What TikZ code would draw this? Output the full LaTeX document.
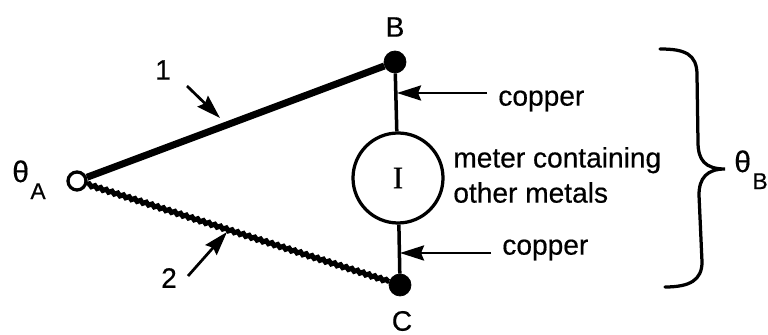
\documentclass[tikz,border=0pt]{standalone}
\usepackage{fontspec}
\setmainfont[FakeBold=0.5]{Liberation Sans}
\newfontfamily\meterfont[FakeBold=0.5]{Liberation Serif}
\usepackage{xcolor}
\usetikzlibrary{arrows.meta, positioning, calc, decorations.pathmorphing}
\newcommand{\subtheta}[1]{\fontsize{17}{20}\selectfont θ\hspace{0.05em}\raisebox{-9.7pt}{\fontsize{13}{15}\selectfont #1}}

\begin{document}
\begin{tikzpicture}[
    joint/.style={circle, draw, fill=black, minimum size=0.44cm, inner sep=0pt},
    openjoint/.style={circle, draw, line width=0.065cm, fill=white, minimum size=0.36cm, inner sep=0pt},
    meter/.style={circle, draw, line width=0.065cm, minimum size=1.8cm, inner sep=0pt,
                  font=\fontsize{18}{20}\selectfont\meterfont},
    lbl/.style={font=\fontsize{16}{20}\selectfont, inner sep=0pt, align=left},
    wire/.style={line width=0.07cm},
    pointer/.style={-{Stealth[length=0.48cm, width=0.3cm, inset=0.06cm]}, line width=0.055cm},
    brace/.style={line width=0.065cm, line cap=round},
]
\useasboundingbox (0,0) rectangle (15.36,6.7);

% Junctions and meter
\node[openjoint] (nA) at (1.54,3.08) {};
\node[joint] (nB) at (7.90,5.46) {};
\node[joint] (nC) at (8.00,1.00) {};
\node[meter] (mtr) at (7.96,3.14) {I};

\node[lbl] (lB) at (7.90,6.16) {B};
\node[lbl] (lC) at (8.04,0.28) {C};
\node[lbl, anchor=base west] (thA) at (0.24,3.06) {\subtheta{A}};
\node[lbl, anchor=base west] (thB) at (14.68,3.26) {\subtheta{B}};
\node[lbl] (n1) at (3.26,5.30) {1};
\node[lbl] (n2) at (3.38,1.14) {2};
\node[lbl, anchor=west] (cuT) at (9.96,4.68) {copper};
\node[lbl, anchor=west] (cuB) at (10.04,1.70) {copper};
\node[lbl, anchor=west, align=left] (mtrText) at (9.06,3.20) {meter containing\\other metals};

% Wires
\draw[line width=0.14cm] (nA) -- (nB);
\draw[line width=0.1cm, decorate, decoration={snake, amplitude=0.022cm, segment length=0.12cm}] (nA) -- (nC);
\draw[wire] (nB) -- (mtr);
\draw[wire] (mtr) -- (nC);

% Pointers
\coordinate (t1) at (3.74,4.98);
\coordinate (p1) at (4.40,4.34);
\coordinate (t2) at (3.76,1.18);
\coordinate (p2) at (4.54,2.06);
\coordinate (tT) at (9.74,4.84);
\coordinate (pT) at (7.94,4.84);
\coordinate (tB) at (9.82,1.64);
\coordinate (pB) at (8.00,1.64);
\draw[pointer] (t1) -- (p1);
\draw[pointer] (t2) -- (p2);
\draw[pointer] (tT) -- (pT);
\draw[pointer] (tB) -- (pB);

% Brace
\coordinate (brTop) at (13.20,5.72);
\coordinate (brTip) at (14.50,3.32);
\coordinate (brEnd) at (13.30,0.96);
\draw[brace] (brTop) .. controls (13.70,5.72) and (13.94,5.62) .. (13.94,5.20)
    -- (13.96,3.86) .. controls (13.96,3.50) and (14.10,3.32) .. (brTip)
    .. controls (14.14,3.32) and (13.98,3.14) .. (13.98,2.80)
    -- (14.04,1.46) .. controls (14.04,1.10) and (13.80,0.96) .. (brEnd);
\end{tikzpicture}
\end{document}
